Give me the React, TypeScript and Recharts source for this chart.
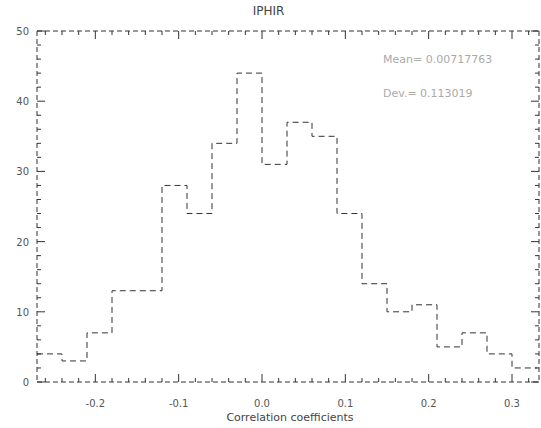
import { LineChart, Line, XAxis, YAxis } from 'recharts';

// histogram bins (edges) and counts
const binEdges = [-0.27, -0.24, -0.21, -0.18, -0.15, -0.12, -0.09, -0.06, -0.03, 0.0, 0.03, 0.06, 0.09, 0.12, 0.15, 0.18, 0.21, 0.24, 0.27, 0.30, 0.33];
const counts = [4, 3, 7, 13, 13, 28, 24, 34, 44, 31, 37, 35, 24, 14, 10, 11, 5, 7, 4, 2];

const xMajor = [-0.2, -0.1, 0.0, 0.1, 0.2, 0.3];
const xMajorLabels = ['-0.2', '-0.1', '0.0', '0.1', '0.2', '0.3'];
const xMinor = [-0.26, -0.24, -0.22, -0.18, -0.16, -0.14, -0.12, -0.08, -0.06, -0.04, -0.02, 0.02, 0.04, 0.06, 0.08, 0.12, 0.14, 0.16, 0.18, 0.22, 0.24, 0.26, 0.28, 0.32];
const yMajor = [0, 10, 20, 30, 40, 50];
const yMinor = [2, 4, 6, 8, 12, 14, 16, 18, 22, 24, 26, 28, 32, 34, 36, 38, 42, 44, 46, 48];

const title = 'IPHIR';
const xTitle = 'Correlation coefficients';
const meanText = 'Mean= 0.00717763';
const devText = 'Dev.= 0.113019';

const points = binEdges.map((x, i) => ({ x, count: counts[Math.min(i, counts.length - 1)] }));

const ink = '#333';
const font = '"DejaVu Sans", sans-serif';
const xDomain = [-0.27, 0.3324];

const isMajor = (list: number[], v: number) => list.some(m => Math.abs(m - v) < 1e-6);

function XTick(props: any) {
    const { x, y, payload, side } = props;
    const major = isMajor(xMajor, payload.value);
    const len = major ? 8 : 4;
    const dir = side === 'top' ? 1 : -1;
    const idx = xMajor.findIndex(m => Math.abs(m - payload.value) < 1e-6);
    return (
        <g>
            <line x1={x} y1={y} x2={x} y2={y + dir * len} stroke={ink} strokeWidth={1} />
            {side === 'bottom' && major && (
                <text x={x} y={y + 25} textAnchor="middle" fontSize={10} fill="#555" fontFamily={font}>{xMajorLabels[idx]}</text>
            )}
        </g>
    );
}

function YTick(props: any) {
    const { x, y, payload, side } = props;
    const major = isMajor(yMajor, payload.value);
    const len = major ? 8 : 4;
    const dir = side === 'left' ? 1 : -1;
    return (
        <g>
            <line x1={x} y1={y} x2={x + dir * len} y2={y} stroke={ink} strokeWidth={1} />
            {side === 'left' && major && (
                <text x={x - 8} y={y + 4} textAnchor="end" fontSize={10} fill="#555" fontFamily={font}>{payload.value}</text>
            )}
        </g>
    );
}

export default function App() {
    const xTicks = [...xMajor, ...xMinor].sort((a, b) => a - b);
    const yTicks = [...yMajor, ...yMinor].sort((a, b) => a - b);
    const axisLine = { stroke: ink, strokeDasharray: '5 3' };
    return (
        <div style={{ position: 'absolute', left: 0, top: 0, width: 541, height: 428, background: '#fff', fontFamily: font }}>
            <LineChart width={541} height={428} data={points} margin={{ top: 30, right: 1, bottom: 45, left: 36 }}>
                <XAxis xAxisId="b" dataKey="x" type="number" domain={xDomain} allowDataOverflow ticks={xTicks} interval={0}
                    orientation="bottom" height={1} tickSize={0} tickMargin={0} tickLine={false} axisLine={axisLine}
                    tick={(p: any) => <XTick {...p} side="bottom" />} />
                <XAxis xAxisId="t" dataKey="x" type="number" domain={xDomain} allowDataOverflow ticks={xTicks} interval={0}
                    orientation="top" height={1} tickSize={0} tickMargin={0} tickLine={false} axisLine={axisLine}
                    tick={(p: any) => <XTick {...p} side="top" />} />
                <YAxis yAxisId="l" type="number" domain={[0, 50]} allowDataOverflow ticks={yTicks} interval={0}
                    orientation="left" width={1} tickSize={0} tickMargin={0} tickLine={false} axisLine={axisLine}
                    tick={(p: any) => <YTick {...p} side="left" />} />
                <YAxis yAxisId="r" type="number" domain={[0, 50]} allowDataOverflow ticks={yTicks} interval={0}
                    orientation="right" width={1} tickSize={0} tickMargin={0} tickLine={false} axisLine={axisLine}
                    tick={(p: any) => <YTick {...p} side="right" />} />
                <Line xAxisId="b" yAxisId="l" type="stepAfter" dataKey="count" stroke={ink} strokeWidth={1}
                    strokeDasharray="6 4" dot={false} activeDot={false} isAnimationActive={false} />
            </LineChart>
            <div style={{ position: 'absolute', left: 0, width: 541, top: 4, textAlign: 'center', fontSize: 12, color: '#444' }}>
                <span style={{ position: 'relative', left: -2 }}>{title}</span>
            </div>
            <div style={{ position: 'absolute', left: 0, width: 580, top: 411, textAlign: 'center', fontSize: 11, lineHeight: '13px', color: '#444' }}>{xTitle}</div>
            <div style={{ position: 'absolute', left: 383, top: 53, fontSize: 11, color: '#aaa' }}>{meanText}</div>
            <div style={{ position: 'absolute', left: 383, top: 87, fontSize: 11, color: '#aaa' }}>{devText}</div>
        </div>
    );
}
